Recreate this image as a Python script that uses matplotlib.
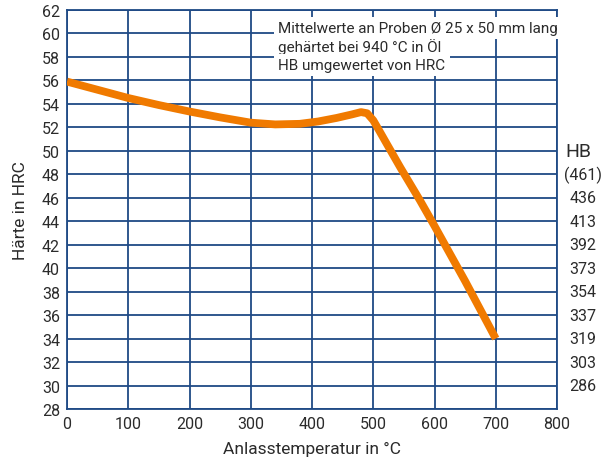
import matplotlib
matplotlib.use("Agg")
import matplotlib.pyplot as plt

temps = [0, 50, 100, 150, 200, 250, 300, 340, 380, 410, 440, 465, 480, 490, 500, 510, 522, 544, 576, 600, 650, 700]
hrc = [55.9, 55.2, 54.5, 53.9, 53.35, 52.85, 52.4, 52.25, 52.3, 52.5, 52.8, 53.1, 53.3, 53.2, 52.6, 51.7, 50.6, 48.6, 45.8, 43.6, 38.9, 34.0]

x_ticks = [0, 100, 200, 300, 400, 500, 600, 700, 800]
y_ticks = list(range(28, 63, 2))
hb_pos = [48, 46, 44, 42, 40, 38, 36, 34, 32, 30]
hb_labels = ["(461)", "436", "413", "392", "373", "354", "337", "319", "303", "286"]
note_lines = ["Mittelwerte an Proben Ø 25 x 50 mm lang",
              "gehärtet bei 940 °C in Öl",
              "HB umgewertet von HRC"]

plt.rcParams['font.family'] = ['Roboto', 'DejaVu Sans']

txt = "#2b2b2b"
blue = "#1f4a85"
orange = "#f07a00"

fig = plt.figure(figsize=(6.01, 4.64), dpi=100)
ax = fig.add_axes([67/601, 54/464, 490/601, 399/464])
ax.set_xlim(0, 800)
ax.set_ylim(28, 62)
ax.set_xticks(x_ticks)
ax.set_yticks(y_ticks)
ax.grid(True, color=blue, linewidth=1.3)
ax.set_axisbelow(True)
for s in ax.spines.values():
    s.set_color(blue)
    s.set_linewidth(1.3)
ax.tick_params(length=0, labelsize=11.5, colors=txt, pad=5)

ax.plot(temps, hrc, color=orange, linewidth=5.6, solid_capstyle='butt', solid_joinstyle='round', zorder=3)

ax.set_xlabel("Anlasstemperatur in °C", fontsize=12.5, color=txt, labelpad=7)
ax.set_ylabel("Härte in HRC", fontsize=12.5, color=txt, labelpad=10)

for i, line in enumerate(note_lines):
    ax.text(0.431, 0.955 - i * 0.0465, line, transform=ax.transAxes, ha='left', va='center',
            fontsize=11, color=txt, zorder=4,
            bbox=dict(boxstyle='square,pad=0.28', facecolor='white', edgecolor='none'))

for p, lab in zip(hb_pos, hb_labels):
    ax.text(1.015 if lab.startswith("(") else 1.025, p, lab, transform=ax.get_yaxis_transform(),
            ha='left', va='center', fontsize=11.5, color=txt, clip_on=False)
ax.text(1.017, 50, "HB", transform=ax.get_yaxis_transform(), ha='left', va='center',
        fontsize=14, color=txt, clip_on=False)

fig.savefig("out.png", dpi=100)
